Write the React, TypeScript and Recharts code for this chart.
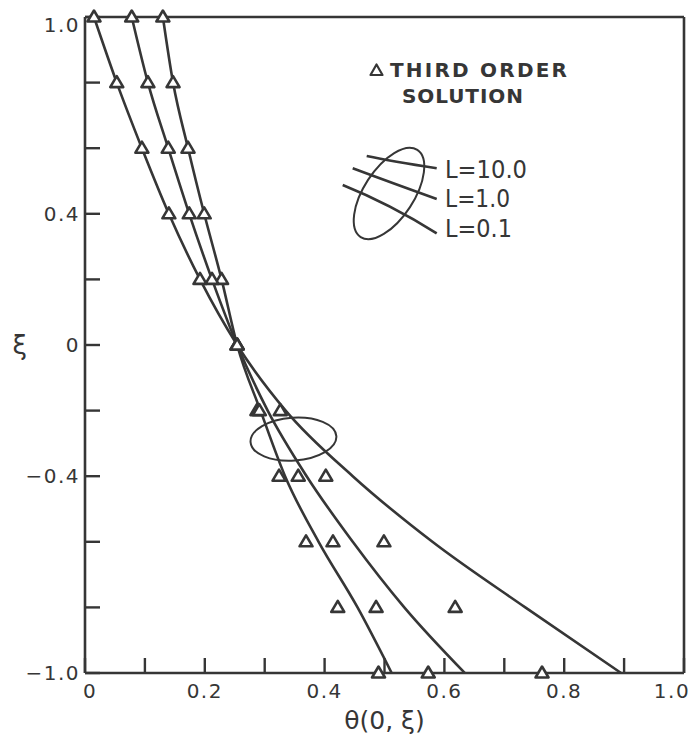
import React from 'react';
import { ComposedChart, Line, Scatter, XAxis, YAxis, Label } from 'recharts';

// ---- data ----
const xiLevels = [1.0, 0.8, 0.6, 0.4, 0.2, 0, -0.2, -0.4, -0.6, -0.8, -1.0];
// exact-solution curves theta(0, xi)
const curveL10 = [0.13, 0.147, 0.172, 0.199, 0.228, 0.254, 0.293, 0.334, 0.39, 0.455, 0.512];
const curveL1 = [0.078, 0.105, 0.139, 0.174, 0.212, 0.254, 0.305, 0.37, 0.447, 0.533, 0.634];
const curveL01 = [0.015, 0.053, 0.095, 0.14, 0.192, 0.254, 0.335, 0.447, 0.58, 0.735, 0.895];
// third order solution (triangles)
const thirdL10 = [0.13, 0.147, 0.172, 0.199, 0.228, 0.254, 0.287, 0.324, 0.369, 0.422, 0.49];
const thirdL1 = [0.078, 0.105, 0.139, 0.174, 0.212, 0.254, 0.291, 0.356, 0.414, 0.486, 0.573];
const thirdL01 = [0.015, 0.053, 0.095, 0.14, 0.192, 0.254, 0.326, 0.402, 0.499, 0.618, 0.763];
// annotation ellipse grouping the curves
const groupMark = [{ x: 0.348, y: -0.287 }];

const xTicks = [0, 0.1, 0.2, 0.3, 0.4, 0.5, 0.6, 0.7, 0.8, 0.9, 1.0];
const xTickLabels = ['0', '', '0.2', '', '0.4', '', '0.6', '', '0.8', '', '1.0'];
const yTicks = [-1.0, -0.8, -0.6, -0.4, -0.2, 0, 0.2, 0.4, 0.6, 0.8, 1.0];
const yTickLabels = ['\u22121.0', '', '', '\u22120.4', '', '0', '', '0.4', '', '', '1.0'];

const seriesNames = ['L=10.0', 'L=1.0', 'L=0.1'];

const INK = '#363636';
const FONT = '"DejaVu Sans", sans-serif';

const toPts = (arr: number[]) => xiLevels.map((y, i) => ({ x: arr[i], y }));

const Tri = (props: any) => {
  const { cx, cy } = props;
  if (cx == null || cy == null) return null;
  return (
    <path
      d={`M${cx},${cy - 6.5} L${cx + 6.5},${cy + 4.5} L${cx - 6.5},${cy + 4.5} Z`}
      fill="#fff"
      stroke={INK}
      strokeWidth={2.6}
      strokeLinejoin="round"
    />
  );
};

const EllipseMark = (props: any) => {
  const { cx, cy } = props;
  if (cx == null || cy == null) return null;
  return (
    <ellipse cx={cx} cy={cy} rx={43} ry={21.5} transform={`rotate(-4 ${cx} ${cy})`} fill="none" stroke={INK} strokeWidth={2} />
  );
};

const findIdx = (arr: number[], v: number) => arr.findIndex((t) => Math.abs(t - v) < 1e-6);

const XTick = (props: any) => {
  const { x, y, payload } = props;
  const i = findIdx(xTicks, payload.value);
  const label = i >= 0 ? xTickLabels[i] : '';
  if (!label) return null;
  const shift = i === 0 ? 5 : i === xTicks.length - 1 ? -12 : 0;
  return (
    <text x={x + shift} y={y + 25} textAnchor="middle" fill={INK} fontSize={20} fontFamily={FONT} letterSpacing={1.5}>
      {label}
    </text>
  );
};

const YTick = (props: any) => {
  const { x, y, payload } = props;
  const i = findIdx(yTicks, payload.value);
  const label = i >= 0 ? yTickLabels[i] : '';
  if (!label) return null;
  const dy = i === yTicks.length - 1 ? 8 : 0;
  return (
    <text x={x} y={y + dy + 7} textAnchor="end" fill={INK} fontSize={20} fontFamily={FONT} letterSpacing={1.5}>
      {label}
    </text>
  );
};

const emptyFmt = () => '';

export default function App() {
  const curves = [curveL10, curveL1, curveL01];
  const thirds = [thirdL10, thirdL1, thirdL01];
  return (
    <div style={{ position: 'absolute', left: 0, top: 0, width: 699, height: 739, background: '#fff' }}>
      <ComposedChart width={699} height={739} margin={{ top: 16, right: 14, bottom: 65, left: 84 }}>
        <XAxis
          xAxisId="b"
          dataKey="x"
          type="number"
          domain={[0, 1]}
          ticks={xTicks}
          interval={0}
          orientation="bottom"
          height={1}
          tickSize={-15}
          tickMargin={15}
          tick={<XTick />}
          axisLine={{ stroke: INK, strokeWidth: 2.6 }}
          tickLine={{ stroke: INK, strokeWidth: 2.4 }}
        >
          <Label value={'\u03B8(0, \u03BE)'} position="bottom" offset={37} fill={INK} fontSize={25} fontFamily={FONT} />
        </XAxis>
        <XAxis
          xAxisId="t"
          type="number"
          domain={[0, 1]}
          ticks={xTicks}
          interval={0}
          orientation="top"
          height={1}
          tickSize={-15}
          tickFormatter={emptyFmt}
          axisLine={{ stroke: INK, strokeWidth: 2.6 }}
          tickLine={{ stroke: INK, strokeWidth: 2.4 }}
        />
        <YAxis
          yAxisId="l"
          dataKey="y"
          type="number"
          domain={[-1, 1]}
          ticks={yTicks}
          interval={0}
          orientation="left"
          width={1}
          tickSize={-15}
          tickMargin={20}
          tick={<YTick />}
          axisLine={{ stroke: INK, strokeWidth: 2.6 }}
          tickLine={{ stroke: INK, strokeWidth: 2.4 }}
        >
          <Label value={'\u03BE'} position="left" offset={57} fill={INK} fontSize={26} fontFamily={FONT} />
        </YAxis>
        <YAxis
          yAxisId="r"
          type="number"
          domain={[-1, 1]}
          ticks={yTicks}
          interval={0}
          orientation="right"
          width={1}
          tickSize={-15}
          tickFormatter={emptyFmt}
          axisLine={{ stroke: INK, strokeWidth: 2.6 }}
          tickLine={{ stroke: INK, strokeWidth: 2.4 }}
        />
        {curves.map((c, k) => (
          <Line
            key={'c' + k}
            name={seriesNames[k]}
            xAxisId="b"
            yAxisId="l"
            data={toPts(c)}
            dataKey="y"
            type="monotone"
            stroke={INK}
            strokeWidth={2.6}
            dot={false}
            activeDot={false}
            isAnimationActive={false}
          />
        ))}
        <Scatter
          xAxisId="b"
          yAxisId="l"
          data={groupMark}
          shape={<EllipseMark />}
          isAnimationActive={false}
        />
        {thirds.map((c, k) => (
          <Scatter
            key={'t' + k}
            name={'third ' + seriesNames[k]}
            xAxisId="b"
            yAxisId="l"
            data={toPts(c)}
            shape={<Tri />}
            isAnimationActive={false}
          />
        ))}
      </ComposedChart>
      <svg
        width={699}
        height={739}
        style={{ position: 'absolute', left: 0, top: 0, pointerEvents: 'none' }}
      >
        <path d="M376.5,64.5 L382.5,75 L370.5,75 Z" fill="#fff" stroke={INK} strokeWidth={2.2} strokeLinejoin="round" />
        <text x={390} y={77} fill={INK} fontSize={20} fontWeight="bold" fontFamily={FONT} textLength={177} lengthAdjust="spacing">
          THIRD ORDER
        </text>
        <text x={402} y={103} fill={INK} fontSize={20} fontWeight="bold" fontFamily={FONT} textLength={121} lengthAdjust="spacing">
          SOLUTION
        </text>
        <ellipse cx={389} cy={193.5} rx={52} ry={25} transform="rotate(-57 389 193.5)" fill="none" stroke={INK} strokeWidth={2} />
        <path d="M366.7,156 Q391.7,161.2 436.7,168.3" fill="none" stroke={INK} strokeWidth={2.6} />
        <path d="M352.7,168.3 Q392,183 436.7,199" fill="none" stroke={INK} strokeWidth={2.6} />
        <path d="M342.7,185 Q390.3,204.2 436.7,233.3" fill="none" stroke={INK} strokeWidth={2.6} />
        <text x={445} y={178} fill={INK} fontSize={24} fontFamily={FONT} textLength={82} lengthAdjust="spacingAndGlyphs">
          {seriesNames[0]}
        </text>
        <text x={445} y={207} fill={INK} fontSize={24} fontFamily={FONT} textLength={65} lengthAdjust="spacingAndGlyphs">
          {seriesNames[1]}
        </text>
        <text x={445} y={237} fill={INK} fontSize={24} fontFamily={FONT} textLength={67} lengthAdjust="spacingAndGlyphs">
          {seriesNames[2]}
        </text>
      </svg>
    </div>
  );
}
